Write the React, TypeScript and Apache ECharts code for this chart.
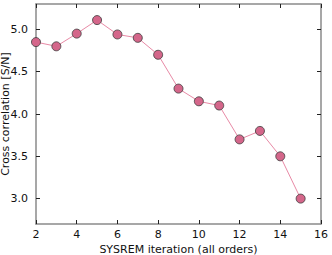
import React, { useEffect, useRef } from "react";
import * as echarts from "echarts";

const iterations = [2, 3, 4, 5, 6, 7, 8, 9, 10, 11, 12, 13, 14, 15];
const snr = [4.85, 4.8, 4.95, 5.11, 4.94, 4.9, 4.7, 4.3, 4.15, 4.1, 3.7, 3.8, 3.5, 3.0];
const yTicks = [3.0, 3.5, 4.0, 4.5, 5.0];

export default function App() {
  const ref = useRef<HTMLDivElement>(null);
  useEffect(() => {
    const chart = echarts.init(ref.current!, null, { renderer: "svg" });
    const font = "DejaVu Sans";
    const frame = { show: true, lineStyle: { color: "#8a8a8a", width: 1.5 } };
    const ticksIn = { show: true, inside: true, length: 4, lineStyle: { color: "#222", width: 1 } };
    const yTicksIn = { ...ticksIn, customValues: yTicks };
    chart.setOption({
      animation: false,
      grid: { left: 36, right: 11, top: 4, bottom: 31, containLabel: false, outerBoundsMode: "none" },
      xAxis: [
        {
          type: "value", min: 2, max: 16, interval: 2,
          axisLine: frame, axisTick: ticksIn, splitLine: { show: false },
          axisLabel: { color: "#111", fontFamily: font, fontSize: 11, margin: 5 },
          name: "SYSREM iteration (all orders)", nameLocation: "middle", nameGap: 20,
          nameMoveOverlap: false,
          nameTextStyle: { color: "#111", fontFamily: font, fontSize: 11 },
        },
        {
          type: "value", min: 2, max: 16, interval: 2, position: "top",
          axisLine: frame, axisTick: ticksIn, splitLine: { show: false }, axisLabel: { show: false },
        },
      ],
      yAxis: [
        {
          type: "value", min: 2.7, max: 5.3,
          axisLine: frame, axisTick: yTicksIn, splitLine: { show: false },
          axisLabel: {
            color: "#111", fontFamily: font, fontSize: 11, margin: 8,
            customValues: yTicks,
            formatter: (v: number) => v.toFixed(1),
          },
          name: "Cross correlation [S/N]", nameLocation: "middle", nameGap: 25.5,
          nameMoveOverlap: false,
          nameTextStyle: { color: "#111", fontFamily: font, fontSize: 11 },
        },
        {
          type: "value", min: 2.7, max: 5.3, position: "right",
          axisLine: frame, axisTick: yTicksIn, splitLine: { show: false }, axisLabel: { show: false },
        },
      ],
      series: [
        {
          type: "line",
          data: iterations.map((x, i) => [x, snr[i]]),
          symbol: "circle",
          symbolSize: 9,
          lineStyle: { color: "#e88aa6", width: 1 },
          itemStyle: { color: "#d4668a", borderColor: "#3a3a3a", borderWidth: 0.8 },
        },
      ],
    });
    return () => chart.dispose();
  }, []);
  return <div ref={ref} style={{ width: 332, height: 255, position: "absolute", left: 0, top: 0 }} />;
}
